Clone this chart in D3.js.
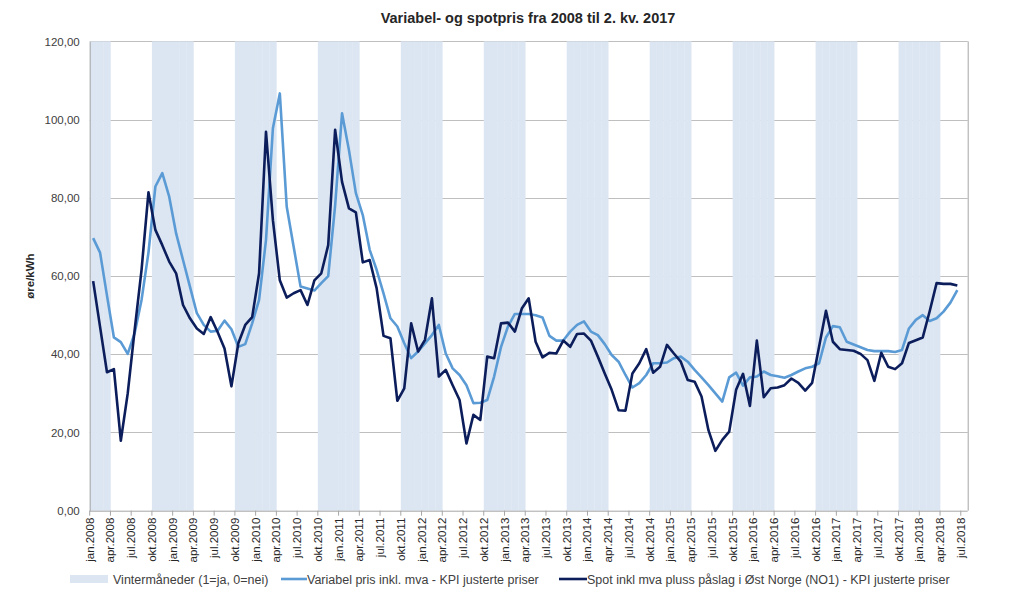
<!DOCTYPE html>
<html>
<head>
<meta charset="utf-8">
<script src="https://cdn.jsdelivr.net/npm/d3@7"></script>
<style>
  html, body { margin: 0; padding: 0; background: #fff; }
  svg { display: block; }
  text { font-family: "Liberation Sans", Arial, sans-serif; }
</style>
</head>
<body>
<svg id="chart" width="1015" height="600"></svg>
<script>
const title = "Variabel- og spotpris fra 2008 til 2. kv. 2017";
const yTitle = "øre/kWh";

// Monthly categories jan 2008 .. jul 2018 (the axis runs one month past the data)
const months = [
  "jan.2008","feb.2008","mar.2008","apr.2008","mai.2008","jun.2008","jul.2008","aug.2008","sep.2008","okt.2008","nov.2008","des.2008",
  "jan.2009","feb.2009","mar.2009","apr.2009","mai.2009","jun.2009","jul.2009","aug.2009","sep.2009","okt.2009","nov.2009","des.2009",
  "jan.2010","feb.2010","mar.2010","apr.2010","mai.2010","jun.2010","jul.2010","aug.2010","sep.2010","okt.2010","nov.2010","des.2010",
  "jan.2011","feb.2011","mar.2011","apr.2011","mai.2011","jun.2011","jul.2011","aug.2011","sep.2011","okt.2011","nov.2011","des.2011",
  "jan.2012","feb.2012","mar.2012","apr.2012","mai.2012","jun.2012","jul.2012","aug.2012","sep.2012","okt.2012","nov.2012","des.2012",
  "jan.2013","feb.2013","mar.2013","apr.2013","mai.2013","jun.2013","jul.2013","aug.2013","sep.2013","okt.2013","nov.2013","des.2013",
  "jan.2014","feb.2014","mar.2014","apr.2014","mai.2014","jun.2014","jul.2014","aug.2014","sep.2014","okt.2014","nov.2014","des.2014",
  "jan.2015","feb.2015","mar.2015","apr.2015","mai.2015","jun.2015","jul.2015","aug.2015","sep.2015","okt.2015","nov.2015","des.2015",
  "jan.2016","feb.2016","mar.2016","apr.2016","mai.2016","jun.2016","jul.2016","aug.2016","sep.2016","okt.2016","nov.2016","des.2016",
  "jan.2017","feb.2017","mar.2017","apr.2017","mai.2017","jun.2017","jul.2017","aug.2017","sep.2017","okt.2017","nov.2017","des.2017",
  "jan.2018","feb.2018","mar.2018","apr.2018","mai.2018","jun.2018","jul.2018"
];

// Tick labels shown on the x axis (every third month)
const tickLabels = [
  "jan.2008","apr.2008","jul.2008","okt.2008","jan.2009","apr.2009","jul.2009","okt.2009",
  "jan.2010","apr.2010","jul.2010","okt.2010","jan.2011","apr.2011","jul.2011","okt.2011",
  "jan.2012","apr.2012","jul.2012","okt.2012","jan.2013","apr.2013","jul.2013","okt.2013",
  "jan.2014","apr.2014","jul.2014","okt.2014","jan.2015","apr.2015","jul.2015","okt.2015",
  "jan.2016","apr.2016","jul.2016","okt.2016","jan.2017","apr.2017","jul.2017","okt.2017",
  "jan.2018","apr.2018","jul.2018"
];

// Winter months (1 = ja, 0 = nei), jan 2008 .. jun 2018
const winter = [
  1,1,1,0,0,0,0,0,0,1,1,1,
  1,1,1,0,0,0,0,0,0,1,1,1,
  1,1,1,0,0,0,0,0,0,1,1,1,
  1,1,1,0,0,0,0,0,0,1,1,1,
  1,1,1,0,0,0,0,0,0,1,1,1,
  1,1,1,0,0,0,0,0,0,1,1,1,
  1,1,1,0,0,0,0,0,0,1,1,1,
  1,1,1,0,0,0,0,0,0,1,1,1,
  1,1,1,0,0,0,0,0,0,1,1,1,
  1,1,1,0,0,0,0,0,0,1,1,1,
  1,1,1,0,0,0
];

// Variabel pris inkl. mva - KPI justerte priser (øre/kWh)
const variabel = [
  69.7,66.0,55.0,44.3,43.1,40.1,45.4,53.9,66.0,82.9,86.3,80.3,
  70.9,64.1,57.3,50.5,47.5,45.8,46.0,48.6,46.4,41.9,42.6,47.9,
  53.9,69.2,97.8,106.7,77.7,67.5,57.3,56.8,56.3,58.2,60.0,78.0,
  101.6,92.2,81.2,75.6,66.7,61.6,55.6,49.2,47.1,42.8,39.0,40.7,
  42.8,44.9,47.5,40.2,36.4,34.7,32.1,27.5,27.6,28.3,34.3,41.9,
  47.1,50.3,50.3,50.3,50.0,49.4,44.7,43.5,43.5,45.8,47.5,48.4,
  45.8,44.9,42.6,39.8,38.1,34.7,31.5,32.6,34.7,37.7,37.7,37.9,
  39.0,39.4,38.1,36.0,34.1,32.1,30.0,27.9,34.1,35.3,32.0,34.1,
  34.3,35.6,34.7,34.4,34.0,34.7,35.6,36.4,36.8,37.7,44.3,47.2,
  46.9,43.2,42.5,41.8,41.1,40.8,40.8,40.8,40.6,41.1,46.6,48.8,
  50.0,48.5,49.2,50.9,53.2,56.4
];

// Spot inkl mva pluss påslag i Øst Norge (NO1) - KPI justerte priser (øre/kWh)
const spot = [
  58.7,47.0,35.4,36.2,17.9,30.0,46.2,61.6,81.4,71.8,67.9,63.7,
  60.7,52.6,49.2,46.6,45.2,49.5,45.7,41.5,31.8,42.8,47.5,49.5,
  60.7,96.9,74.3,58.9,54.5,55.6,56.4,52.6,58.9,60.7,67.9,97.4,
  84.1,77.3,76.3,63.5,64.1,56.9,44.7,44.1,28.1,31.3,47.9,40.7,
  43.7,54.3,34.3,36.0,32.1,28.3,17.2,24.5,23.2,39.4,39.0,47.9,
  48.1,45.8,51.7,54.3,43.2,39.2,40.4,40.2,43.5,41.9,45.2,45.3,
  43.5,39.4,35.1,30.9,25.7,25.6,35.1,37.7,41.3,35.3,36.8,42.4,
  40.2,38.1,33.4,33.0,29.2,20.6,15.3,18.1,20.2,30.9,35.0,26.8,
  43.5,29.0,31.3,31.5,32.1,33.8,32.7,30.7,32.7,41.9,51.1,43.2,
  41.3,41.1,40.9,40.1,38.5,33.2,40.4,36.8,36.2,37.7,42.9,43.6,
  44.3,51.0,58.2,58.0,58.0,57.6
];

const yTicks = [0, 20, 40, 60, 80, 100, 120];
const legendLabels = [
  "Vintermåneder (1=ja, 0=nei)",
  "Variabel pris inkl. mva - KPI justerte priser",
  "Spot inkl mva pluss påslag i Øst Norge (NO1) - KPI justerte priser"
];

const colBand = "#dce6f2";
const colVar = "#5b9bd5";
const colSpot = "#0c1d5c";
const textCol = "#404040";
const gridCol = "#bfbfbf";

const L = 89.7, R = 967.7, T = 41.4, B = 510.7;

const svg = d3.select("#chart");

const x = d3.scaleBand().domain(d3.range(months.length)).range([L, R]).padding(0);
const y = d3.scaleLinear().domain([0, 120]).range([B, T]);
const y2 = d3.scaleLinear().domain([0, 1]).range([B, T]);
const cx = i => x(i) + x.bandwidth() / 2;

// Title
svg.append("text")
  .attr("x", 528).attr("y", 23)
  .attr("text-anchor", "middle")
  .attr("font-size", 14.5).attr("font-weight", "bold")
  .attr("fill", "#262626")
  .text(title);

// Gridlines
svg.append("g")
  .selectAll("line")
  .data(yTicks.filter(v => v > 0))
  .join("line")
  .attr("x1", L).attr("x2", R)
  .attr("y1", d => Math.round(y(d)) + 0.5).attr("y2", d => Math.round(y(d)) + 0.5)
  .attr("stroke", gridCol).attr("stroke-width", 1);

// Winter bands
svg.append("g")
  .selectAll("rect")
  .data(winter.map((v, i) => ({ v, i })).filter(d => d.v > 0))
  .join("rect")
  .attr("x", d => x(d.i))
  .attr("width", x.bandwidth() + 0.3)
  .attr("y", d => y2(d.v))
  .attr("height", d => y2(0) - y2(d.v))
  .attr("fill", colBand);

// Y axis
const yAxis = d3.axisLeft(y)
  .tickValues(yTicks)
  .tickSize(0)
  .tickPadding(10)
  .tickFormat(d => d3.format(".2f")(d).replace(".", ","));
const gy = svg.append("g").attr("transform", `translate(${L},0)`).call(yAxis);
gy.select(".domain").attr("stroke", "#a6a6a6");
gy.selectAll("text").attr("font-size", 11.5).attr("fill", textCol)
  .attr("font-family", "'Open Sans', 'Liberation Sans', sans-serif");

// Right border (secondary axis line)
svg.append("line")
  .attr("x1", R + 0.5).attr("x2", R + 0.5).attr("y1", T).attr("y2", B)
  .attr("stroke", "#a6a6a6");

// X axis
const tickIdx = d3.range(0, months.length, 3);
const xAxisG = svg.append("g");
xAxisG.append("line")
  .attr("x1", L).attr("x2", R).attr("y1", B + 0.5).attr("y2", B + 0.5)
  .attr("stroke", "#a6a6a6");
xAxisG.selectAll("line.tick")
  .data(tickIdx)
  .join("line")
  .attr("class", "tick")
  .attr("x1", d => x(d)).attr("x2", d => x(d))
  .attr("y1", B).attr("y2", B + 5)
  .attr("stroke", "#a6a6a6");
xAxisG.selectAll("text")
  .data(tickIdx)
  .join("text")
  .attr("transform", d => `translate(${x(d) + 4},${B + 7}) rotate(-90)`)
  .attr("text-anchor", "end")
  .attr("font-size", 11.5)
  .attr("font-family", "'Open Sans', 'Liberation Sans', sans-serif")
  .attr("fill", "#262626")
  .text((d, k) => tickLabels[k]);

// Y title
svg.append("text")
  .attr("transform", `translate(34,${(T + B) / 2}) rotate(-90)`)
  .attr("text-anchor", "middle")
  .attr("font-size", 11.5).attr("font-weight", "bold")
  .attr("fill", "#262626")
  .text(yTitle);

// Lines
const line = d3.line().x((d, i) => cx(i)).y(d => y(d)).curve(d3.curveLinear);
svg.append("path").datum(variabel)
  .attr("d", line).attr("fill", "none")
  .attr("stroke", colVar).attr("stroke-width", 2.6)
  .attr("stroke-linejoin", "round");
svg.append("path").datum(spot)
  .attr("d", line).attr("fill", "none")
  .attr("stroke", colSpot).attr("stroke-width", 2.6)
  .attr("stroke-linejoin", "round");

// Legend
const lg = svg.append("g").attr("font-size", 12.5)
  .attr("font-family", "'Open Sans', 'Liberation Sans', sans-serif")
  .attr("fill", textCol);
const ly = 579;
lg.append("rect").attr("x", 70).attr("y", ly - 4).attr("width", 38).attr("height", 8).attr("fill", colBand);
lg.append("text").attr("x", 113).attr("y", ly + 4.5).text(legendLabels[0]);
lg.append("line").attr("x1", 281).attr("x2", 307).attr("y1", ly).attr("y2", ly)
  .attr("stroke", colVar).attr("stroke-width", 2.6);
lg.append("text").attr("x", 307).attr("y", ly + 4.5).text(legendLabels[1]);
lg.append("line").attr("x1", 559).attr("x2", 587).attr("y1", ly).attr("y2", ly)
  .attr("stroke", colSpot).attr("stroke-width", 2.6);
lg.append("text").attr("x", 587).attr("y", ly + 4.5).text(legendLabels[2]);
</script>
</body>
</html>
